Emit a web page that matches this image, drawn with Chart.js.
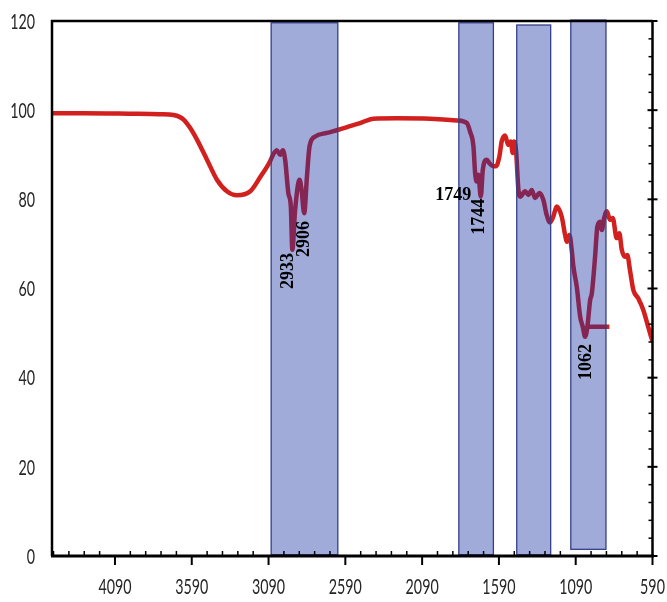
<!DOCTYPE html>
<html>
<head>
<meta charset="utf-8">
<script src="https://cdn.jsdelivr.net/npm/chart.js@4.4.0/dist/chart.umd.min.js"></script>
<style>
  html, body { margin: 0; padding: 0; background: #fff; }
  #wrap { width: 667px; height: 602px; }
</style>
</head>
<body>
<div id="wrap"><canvas id="myChart" width="667" height="602"></canvas></div>
<script>
'use strict';

// spectrum (wavenumber, transmittance)
var wavenumbers = [4500, 4300, 4000, 3800, 3708, 3670, 3643, 3600, 3556, 3491, 3426, 3361, 3296, 3209, 3144,
  3079, 3068, 3036, 3015, 2997, 2982, 2961, 2945, 2935, 2917, 2888, 2875, 2858, 2840, 2823, 2786,
  2710, 2635, 2559, 2494, 2407, 2255, 2038, 1864, 1799, 1778, 1756, 1745, 1734, 1724, 1708, 1695,
  1669, 1652, 1630, 1609, 1587, 1572, 1550, 1529, 1513, 1500, 1492, 1479, 1463, 1452, 1419, 1398,
  1376, 1355, 1327, 1301, 1279, 1257, 1236, 1214, 1181, 1159, 1148, 1131, 1115, 1105, 1083, 1061,
  1044, 1029, 1014, 996, 985, 964, 949, 931, 920, 905, 888, 866, 849, 823, 806, 790, 769, 754,
  737, 715, 683, 650, 618, 596, 590];
var transmittance = [99.3, 99.3, 99.2, 99.1, 98.9, 98.5, 97.9, 96.0, 93.4, 88.9, 84.4, 81.8, 80.9, 81.8, 85.0,
  88.6, 89.5, 91.0, 90.0, 91.0, 88.9, 81.4, 78.4, 68.7, 77.6, 84.4, 82.1, 76.9, 85.1, 91.9, 94.1,
  94.9, 95.6, 96.4, 97.1, 98.1, 98.2, 98.1, 97.7, 97.1, 95.2, 91.9, 85.9, 84.0, 85.5, 80.6, 86.6,
  88.9, 88.1, 87.5, 87.4, 89.6, 93.0, 94.3, 92.2, 93.0, 90.4, 93.0, 91.1, 82.1, 80.6, 81.8, 81.0,
  82.1, 80.3, 81.4, 79.9, 76.5, 74.8, 76.1, 78.4, 76.1, 72.0, 70.5, 72.0, 68.3, 64.9, 60.4, 53.7,
  51.4, 49.2, 51.4, 57.4, 58.9, 67.1, 73.9, 75.0, 73.1, 75.8, 77.3, 75.4, 75.8, 71.3, 72.4, 68.7,
  67.1, 67.5, 64.2, 59.7, 57.8, 55.2, 51.4, 48.8, 48.2];

// short flat stroke that leaves the 1062 minimum
var tailX = [1018, 871];
var tailY = [51.4, 51.4];

var xTicks = [590, 1090, 1590, 2090, 2590, 3090, 3590, 4090];
var yTicks = [0, 20, 40, 60, 80, 100, 120];

// shaded bands
var bandStart = [3073, 1851, 1474, 1122];
var bandEnd = [2639, 1626, 1253, 893];
var bandLow = [0.3, 0.3, 0.3, 1.5];
var bandHigh = [119.6, 119.6, 119.1, 120.2];

// peak labels, centre of the text in data units
var peakLabels = ['2933', '2906', '1749', '1744', '1062'];
var peakX = [2962, 2858, 1888, 1719, 1020];
var peakY = [63.9, 71.1, 80.8, 76.1, 43.5];
var peakVertical = [true, true, false, true, true];

var framePlugin = {
  id: 'frame',
  afterDatasetsDraw: function (chart) {
    var ctx = chart.ctx;
    var xs = chart.scales.x;
    var ys = chart.scales.y;
    var a = chart.chartArea;
    var i, px, py, v;

    ctx.save();
    // bands go over the line, that is why the line turns dark inside
    for (i = 0; i < bandStart.length; i++) {
      var l = xs.getPixelForValue(bandStart[i]);
      var r = xs.getPixelForValue(bandEnd[i]);
      var t = ys.getPixelForValue(bandHigh[i]);
      var b = ys.getPixelForValue(bandLow[i]);
      ctx.fillStyle = 'rgba(18,46,162,0.4)';
      ctx.fillRect(Math.min(l, r), t, Math.abs(r - l), b - t);
      ctx.strokeStyle = '#34408a';
      ctx.lineWidth = 1.3;
      ctx.strokeRect(Math.min(l, r), t, Math.abs(r - l), b - t);
    }

    // frame
    ctx.strokeStyle = '#000';
    ctx.lineWidth = 2.5;
    ctx.beginPath();
    ctx.moveTo(a.left, a.bottom);
    ctx.lineTo(a.left, a.top);
    ctx.lineTo(a.right, a.top);
    ctx.stroke();
    ctx.lineWidth = 3;
    ctx.beginPath();
    ctx.moveTo(a.left - 1, a.bottom);
    ctx.lineTo(a.right + 1.5, a.bottom);
    ctx.stroke();
    ctx.lineWidth = 2.5;
    ctx.beginPath();
    ctx.moveTo(a.right, a.top);
    ctx.lineTo(a.right, a.bottom);
    ctx.stroke();

    // x ticks: major below, minor inside every 100
    ctx.lineWidth = 2;
    for (i = 0; i < xTicks.length; i++) {
      px = xs.getPixelForValue(xTicks[i]);
      ctx.beginPath();
      ctx.moveTo(px, a.bottom);
      ctx.lineTo(px, a.bottom + 9);
      ctx.stroke();
    }
    ctx.lineWidth = 1.5;
    for (v = 690; v < xs.max; v += 100) {
      if ((v - 590) % 500 === 0) continue;
      px = xs.getPixelForValue(v);
      ctx.beginPath();
      ctx.moveTo(px, a.bottom);
      ctx.lineTo(px, a.bottom - 5);
      ctx.stroke();
    }

    // right axis ticks
    for (v = 0; v <= 120; v += 4) {
      py = ys.getPixelForValue(v);
      ctx.beginPath();
      if (v % 20 === 0) {
        ctx.lineWidth = 2;
        ctx.moveTo(a.right - 5, py);
        ctx.lineTo(a.right + 5, py);
      } else {
        ctx.lineWidth = 1.5;
        ctx.moveTo(a.right - 4, py);
        ctx.lineTo(a.right, py);
      }
      ctx.stroke();
    }

    // tick labels, narrow like the original
    ctx.fillStyle = '#262626';
    ctx.font = "21px Lato, 'Liberation Sans', sans-serif";
    ctx.textBaseline = 'middle';
    ctx.textAlign = 'right';
    for (i = 0; i < yTicks.length; i++) {
      py = ys.getPixelForValue(yTicks[i]);
      ctx.save();
      ctx.translate(a.left - 17, py + 1);
      ctx.scale(0.68, 1);
      ctx.fillText(String(yTicks[i]), 0, 0);
      ctx.restore();
    }
    ctx.textAlign = 'center';
    for (i = 0; i < xTicks.length; i++) {
      px = xs.getPixelForValue(xTicks[i]);
      ctx.save();
      ctx.translate(px, a.bottom + 31);
      ctx.scale(0.68, 1);
      ctx.fillText(String(xTicks[i]), 0, 0);
      ctx.restore();
    }

    // peak labels
    ctx.fillStyle = '#000';
    ctx.font = "bold 18px 'Liberation Serif', 'Times New Roman', serif";
    for (i = 0; i < peakLabels.length; i++) {
      px = xs.getPixelForValue(peakX[i]);
      py = ys.getPixelForValue(peakY[i]);
      ctx.save();
      ctx.translate(px, py);
      if (peakVertical[i]) ctx.rotate(-Math.PI / 2);
      ctx.fillText(peakLabels[i], 0, 0);
      ctx.restore();
    }
    ctx.restore();
  }
};

var spectrum = wavenumbers.map(function (w, i) { return { x: w, y: transmittance[i] }; });
var tail = tailX.map(function (w, i) { return { x: w, y: tailY[i] }; });

var ctx = document.getElementById('myChart').getContext('2d');
var chart = new Chart(ctx, {
  type: 'line',
  data: {
    datasets: [{
      data: spectrum,
      borderColor: '#d2201f',
      borderWidth: 4.5,
      pointRadius: 0,
      cubicInterpolationMode: 'monotone',
      fill: false
    }, {
      data: tail,
      borderColor: '#d2201f',
      borderWidth: 4.5,
      pointRadius: 0,
      fill: false
    }]
  },
  options: {
    responsive: false,
    animation: false,
    layout: { padding: { top: 21, right: 14.5, left: 0, bottom: 0 } },
    plugins: { legend: { display: false }, tooltip: { enabled: false } },
    scales: {
      x: {
        type: 'linear',
        reverse: true,
        min: 590,
        max: 4500,
        grid: { display: false, drawTicks: false },
        border: { display: false },
        ticks: { display: false },
        afterBuildTicks: function (s) { s.ticks = xTicks.map(function (v) { return { value: v }; }); },
        afterFit: function (s) { s.height = 46; s.paddingLeft = 0; s.paddingRight = 0; }
      },
      y: {
        min: 0,
        max: 120,
        grid: { display: false, drawTicks: false },
        border: { display: false },
        ticks: { display: false },
        afterBuildTicks: function (s) { s.ticks = yTicks.map(function (v) { return { value: v }; }); },
        afterFit: function (s) { s.width = 52; s.paddingTop = 0; s.paddingBottom = 0; }
      }
    }
  },
  plugins: [framePlugin]
});
</script>
</body>
</html>
